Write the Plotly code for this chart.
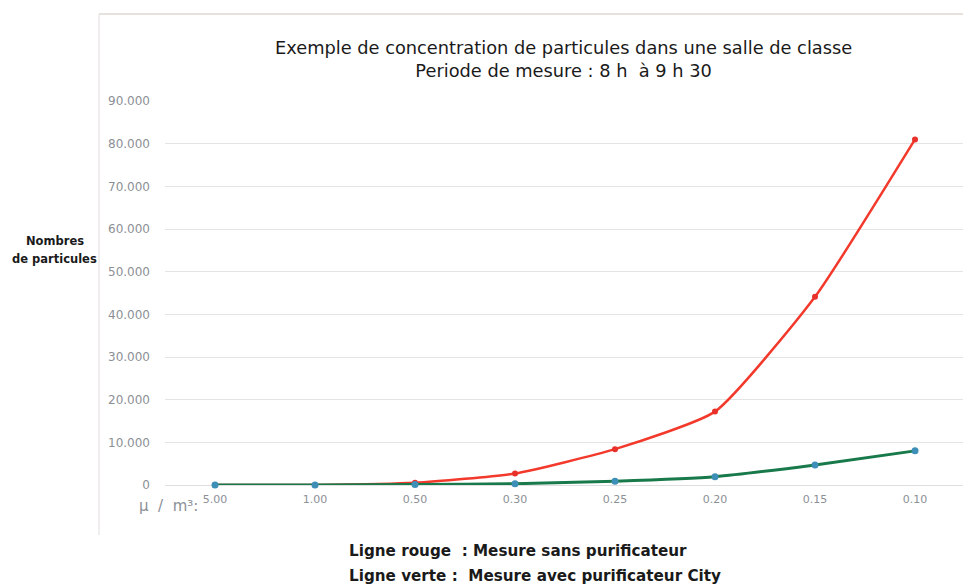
import plotly.graph_objects as go

categories = ["5.00", "1.00", "0.50", "0.30", "0.25", "0.20", "0.15", "0.10"]
sans_purificateur = [0, 0, 500, 2700, 8400, 17200, 44100, 81000]
avec_purificateur = [0, 0, 100, 300, 900, 1950, 4700, 8000]
y_tick_vals = [0, 10000, 20000, 30000, 40000, 50000, 60000, 70000, 80000, 90000]
y_tick_text = ["0", "10.000", "20.000", "30.000", "40.000", "50.000", "60.000", "70.000", "80.000", "90.000"]

# page body has an 8px margin: figure pixel = reference pixel - 8
OFF = 8
W, H = 963, 578
L = 165 - OFF
R = W - (965 - OFF)
T = 101 - OFF
B = H - (485 - OFF)
PW, PH = W - L - R, H - T - B


def px(rx, ry):
    """reference pixel -> paper coords"""
    fx, fy = rx - OFF, ry - OFF
    return (fx - L) / PW, (H - fy - B) / PH


fig = go.Figure()
fig.add_trace(go.Scatter(
    x=categories, y=sans_purificateur, mode="lines+markers",
    line=dict(color="#f2392b", width=2.5, shape="spline", smoothing=0.5),
    marker=dict(color="#e8312a", size=6), cliponaxis=False, showlegend=False))
fig.add_trace(go.Scatter(
    x=categories, y=avec_purificateur, mode="lines+markers",
    line=dict(color="#18794a", width=3, shape="spline", smoothing=0.5),
    marker=dict(color="#3d8fb8", size=7), cliponaxis=False, showlegend=False))

text_font = "DejaVu Sans"

fig.update_layout(
    width=W, height=H,
    margin=dict(l=L, r=R, t=T, b=B, pad=0),
    paper_bgcolor="white", plot_bgcolor="white",
    font=dict(family=text_font),
    xaxis=dict(type="category", showgrid=False, zeroline=False, showline=False,
               ticks="", tickfont=dict(family=text_font, size=11, color="#8c9096"),
               ticklabelstandoff=6, range=[-0.5, len(categories) - 0.5]),
    yaxis=dict(range=[0, 90000], tickvals=y_tick_vals, ticktext=y_tick_text,
               showgrid=True, gridcolor="#e4e4e4", gridwidth=1,
               zeroline=True, zerolinecolor="#dedede", zerolinewidth=1,
               showline=False, ticks="", ticklabelstandoff=14,
               tickfont=dict(family=text_font, size=12, color="#8c9096")),
)

annotations = [
    dict(text="Exemple de concentration de particules dans une salle de classe<br>Periode de mesure : 8 h  à 9 h 30",
         x=563, y=59, font=dict(size=17.8, color="#1a1a1a")),
    dict(text="<b>Nombres</b>", x=55, y=241, font=dict(size=11.5, color="#1a1a1a")),
    dict(text="<b>de particules</b>", x=55, y=259, font=dict(size=11.5, color="#1a1a1a")),
    dict(text="μ  /  m³:", x=168, y=506, font=dict(size=15, color="#8c9096")),
    dict(text="<b>Ligne rouge  : Mesure sans purificateur</b>", x=347, y=551, xanchor="left",
         font=dict(size=15.2, color="#1a1a1a")),
    dict(text="<b>Ligne verte :  Mesure avec purificateur City</b>", x=347, y=576, xanchor="left",
         font=dict(size=15.2, color="#1a1a1a")),
]
for a in annotations:
    a.setdefault("xanchor", "center")
    ax, ay = px(a.pop("x"), a.pop("y"))
    fig.add_annotation(xref="paper", yref="paper", x=ax, y=ay,
                       showarrow=False, yanchor="middle", align="center", **a)

x0, y0 = px(99, 14)
x1, _ = px(975, 14)
_, y2 = px(99, 535)
fig.add_shape(type="line", xref="paper", yref="paper", x0=x0, y0=y0, x1=x1, y1=y0,
              line=dict(color="#e6e1dd", width=2))
fig.add_shape(type="line", xref="paper", yref="paper", x0=x0, y0=y0, x1=x0, y1=y2,
              line=dict(color="#ebe8e6", width=1.5))

fig.write_html("out.html")
